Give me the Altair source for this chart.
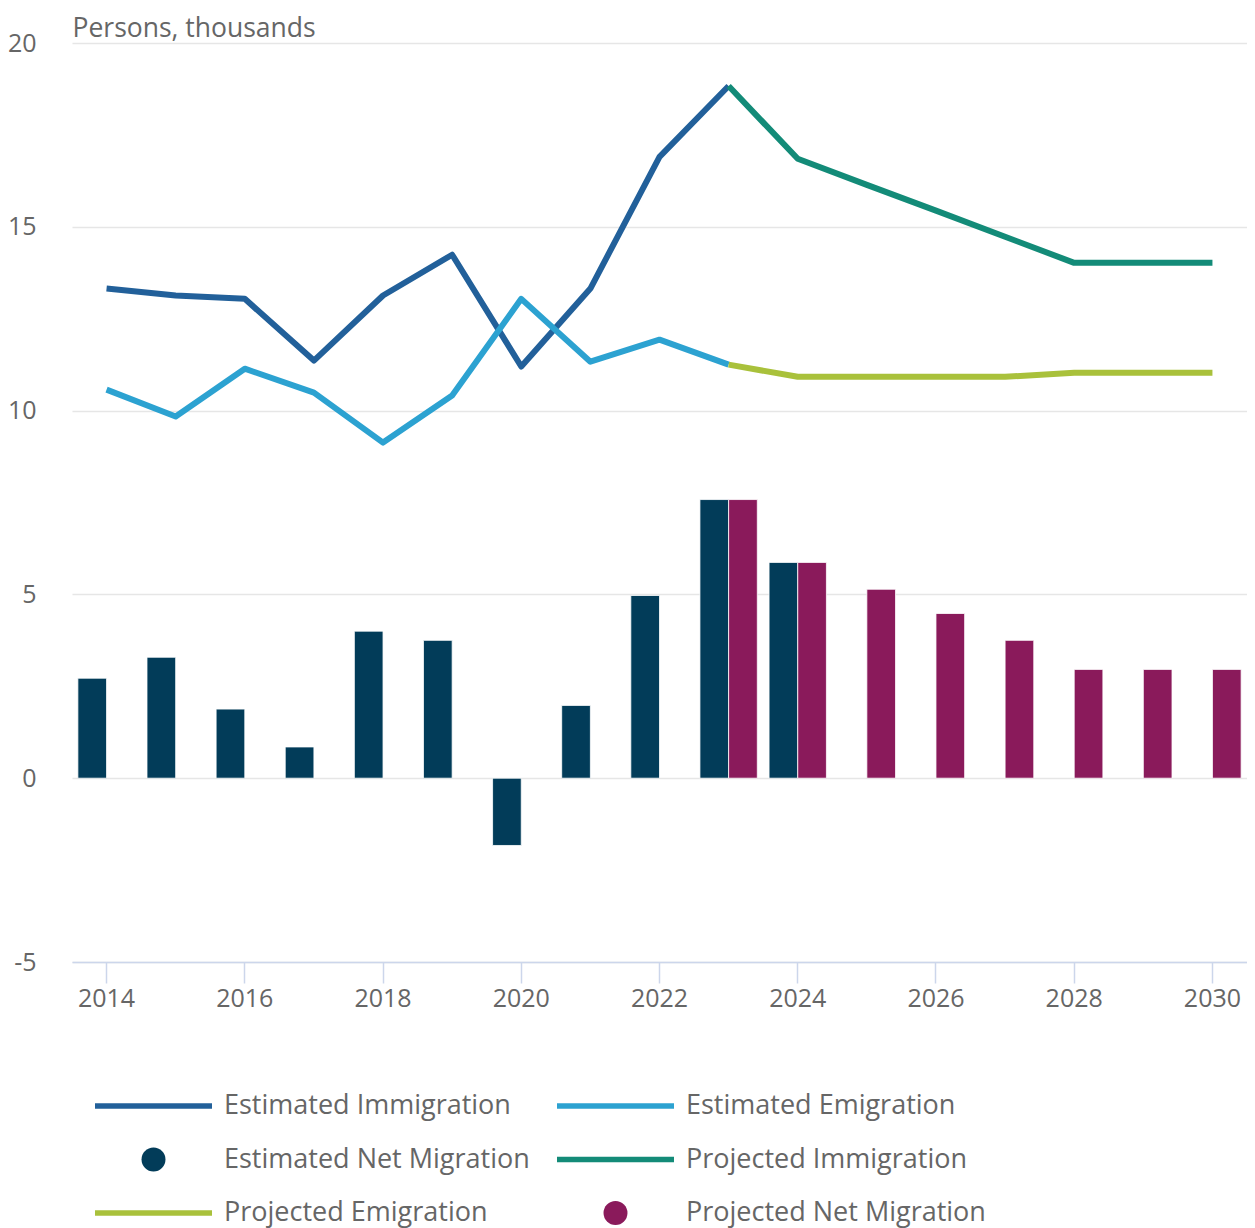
import altair as alt
import pandas as pd

# ---- data ----
years = list(range(2014, 2031))
tick_years = [2014, 2016, 2018, 2020, 2022, 2024, 2026, 2028, 2030]

est_years = list(range(2014, 2024))
est_immigration = [13.32, 13.13, 13.04, 11.36, 13.13, 14.24, 11.20, 13.32, 16.90, 18.83]
est_emigration = [10.57, 9.84, 11.14, 10.49, 9.13, 10.41, 13.04, 11.33, 11.93, 11.25]

proj_years = list(range(2023, 2031))
proj_immigration = [18.83, 16.85, 16.14, 15.44, 14.73, 14.02, 14.02, 14.02]
proj_emigration = [11.25, 10.92, 10.92, 10.92, 10.92, 11.03, 11.03, 11.03]

est_net_years = list(range(2014, 2025))
est_net = [2.72, 3.29, 1.88, 0.85, 4.00, 3.75, -1.83, 1.98, 4.97, 7.58, 5.87]

proj_net_years = list(range(2023, 2031))
proj_net = [7.58, 5.87, 5.14, 4.48, 3.75, 2.96, 2.96, 2.96]

series_order = [
    "Estimated Immigration", "Estimated Emigration", "Estimated Net Migration",
    "Projected Immigration", "Projected Emigration", "Projected Net Migration",
]
series_colors = ["#22609a", "#2ca2d1", "#023c59", "#138b78", "#a9c13b", "#8a1a5b"]

# legend entries: glyph kind, grid row / column (two columns, three rows)
legend_kind = ["line", "line", "dot", "line", "line", "dot"]
legend_row = [0, 0, 1, 1, 2, 2]
legend_col = [0, 1, 0, 1, 0, 1]

# ---- tables ----
def frame(yrs, vals, name):
    return pd.DataFrame({"year": yrs, "value": vals, "series": name})

lines_df = pd.concat([
    frame(est_years, est_immigration, "Estimated Immigration"),
    frame(est_years, est_emigration, "Estimated Emigration"),
    frame(proj_years, proj_immigration, "Projected Immigration"),
    frame(proj_years, proj_emigration, "Projected Emigration"),
], ignore_index=True)

bars_df = pd.concat([
    frame(est_net_years, est_net, "Estimated Net Migration"),
    frame(proj_net_years, proj_net, "Projected Net Migration"),
], ignore_index=True)

legend_df = pd.DataFrame({
    "series": series_order, "kind": legend_kind, "row": legend_row, "col": legend_col,
})

FONT = "Open Sans"
GREY = "#666666"

x_enc = alt.X(
    "year:O",
    scale=alt.Scale(domain=years, paddingInner=0.17, paddingOuter=0.085),
    axis=alt.Axis(
        values=tick_years, title=None, labelAngle=0, grid=False,
        domainColor="#ccd6eb", domainWidth=1.5, tickColor="#ccd6eb", tickWidth=1.5,
        tickSize=21, labelPadding=3, labelFont=FONT, labelFontSize=25, labelColor=GREY,
    ),
)
y_enc = alt.Y(
    "value:Q",
    scale=alt.Scale(domain=[-5, 20], nice=False, zero=False),
    axis=alt.Axis(
        values=[-5, 0, 5, 10, 15, 20], labelExpr="'' + datum.value",
        domain=False, ticks=False, tickSize=0, labelPadding=36,
        labelFont=FONT, labelFontSize=25, labelColor=GREY,
        gridColor="#e6e6e6", gridWidth=1.5,
        title="Persons, thousands", titleAngle=0, titleAlign="left",
        titleBaseline="alphabetic", titleX=0, titleY=-7,
        titleFont=FONT, titleFontSize=26.5, titleFontWeight="normal", titleColor=GREY,
    ),
)
color_scale = alt.Scale(domain=series_order, range=series_colors)

bars = alt.Chart(bars_df).mark_bar(stroke="#ffffff", strokeWidth=0.8).encode(
    x=x_enc,
    y=y_enc,
    xOffset=alt.XOffset(
        "series:N",
        scale=alt.Scale(domain=["Estimated Net Migration", "Projected Net Migration"],
                        paddingInner=0, paddingOuter=0),
    ),
    color=alt.Color("series:N", scale=color_scale, legend=None),
)

lines = alt.Chart(lines_df).mark_line(strokeWidth=6, strokeJoin="round").encode(
    x=x_enc,
    y=y_enc,
    color=alt.Color("series:N", scale=color_scale, legend=None),
    order="year:O",
)

main = alt.layer(bars, lines)

# ---- legend, laid out below the plot through its own row/column scales ----
lx = alt.X("col:Q", scale=alt.Scale(domain=[0, 1], range=[23, 485]), axis=None)
ly = alt.Y("row:Q", scale=alt.Scale(domain=[0, 2], range=[1063, 1170]), axis=None)
lcolor = alt.Color("series:N", scale=color_scale, legend=None)

leg_lines = alt.Chart(legend_df).transform_filter("datum.kind == 'line'").mark_tick(
    orient="horizontal", size=117, thickness=5.5, opacity=1, xOffset=58.5
).encode(x=lx, y=ly, color=lcolor)

leg_dots = alt.Chart(legend_df).transform_filter("datum.kind == 'dot'").mark_circle(
    size=573, opacity=1, xOffset=58.5
).encode(x=lx, y=ly, color=lcolor)

leg_text = alt.Chart(legend_df).mark_text(
    align="left", baseline="middle", dx=129, font=FONT, fontSize=27, color=GREY
).encode(x=lx, y=ly, text="series:N")

legend = alt.layer(leg_lines, leg_dots, leg_text)

chart = alt.layer(main, legend).resolve_scale(x="independent", y="independent").properties(
    width=1175, height=919,
    autosize=alt.AutoSizeParams(type="none"),
    padding={"left": 64, "top": 35, "right": 0, "bottom": 266},
).configure(font=FONT).configure_view(stroke=None)

chart.save("out.html", embed_options={"renderer": "svg", "actions": False})
